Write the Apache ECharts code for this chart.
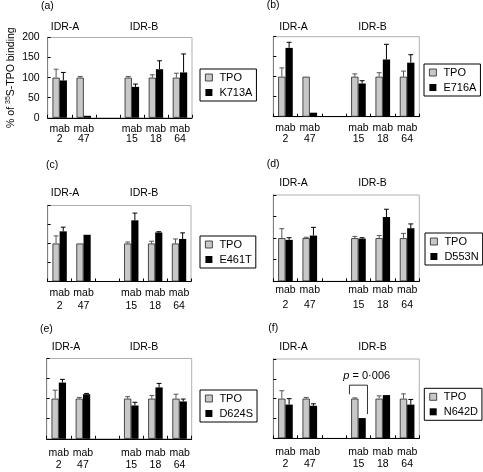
<!DOCTYPE html>
<html><head><meta charset="utf-8">
<script src="https://cdn.jsdelivr.net/npm/echarts@6/dist/echarts.min.js"></script>
<style>html,body{margin:0;padding:0;background:#fff}#c{width:483px;height:472px}</style>
</head><body><div id="c"></div>
<script>
// ---- data ----
const categories = ['mab\n2', 'mab\n47', '', 'mab\n15', 'mab\n18', 'mab\n64'];
const mutants = ['K713A', 'E716A', 'E461T', 'D553N', 'D624S', 'N642D'];
const panelLetters = ['(a)', '(b)', '(c)', '(d)', '(e)', '(f)'];
const yTicks = [0, 50, 100, 150, 200];

const tpoValues = [100, 100, null, 100, 100, 100];

const tpoErrA = [121, 103, null, 103, 107, 111];
const mutA    = [93, 5, null, 77, 121, 113];
const mutErrA = [113, null, null, 84, 142, 159];

const tpoErrB = [122, null, null, 107, 110, 114];
const mutB    = [172, 10, null, 83, 143, 135];
const mutErrB = [186, null, null, 90, 181, 155];

const tpoErrC = [120, null, null, 104, 106, 112];
const mutC    = [132, 123, null, 161, 129, 112];
const mutErrC = [143, null, null, 180, 131, 128];

const tpoErrD = [122, 102, null, 104, 106, 111];
const mutD    = [96, 106, null, 99, 149, 123];
const mutErrD = [101, 125, null, 101, 167, 133];

const tpoErrE = [121, 103, null, 105, 108, 111];
const mutE    = [140, 111, null, 83, 128, 93];
const mutErrE = [148, 113, null, 91, 138, 99];

const tpoErrF = [120, 103, null, 102, 107, 112];
const mutF    = [85, 82, null, 51, 109, 85];
const mutErrF = [100, 87, null, null, null, 98];

// significance bracket in panel (f): category index, left leg bottom, bracket top, right leg bottom
const bracketF = [3, 111, 134, 61];
const bracketText = 'p = 0·006';

const mutValues = [mutA, mutB, mutC, mutD, mutE, mutF];
const mutErrs = [mutErrA, mutErrB, mutErrC, mutErrD, mutErrE, mutErrF];
const tpoErrs = [tpoErrA, tpoErrB, tpoErrC, tpoErrD, tpoErrE, tpoErrF];

// ---- layout (pixels) ----
const FONT = "'Liberation Sans', Arial, sans-serif";
const grids = [
  {left: 47.7, top: 37.5, width: 144.3, height: 80.3},
  {left: 273.3, top: 36.7, width: 146, height: 80},
  {left: 47.7, top: 205.5, width: 143.3, height: 76},
  {left: 273.3, top: 195, width: 146, height: 86.3},
  {left: 46.7, top: 358.5, width: 145, height: 80.3},
  {left: 273.3, top: 359, width: 146, height: 79.3}
];
const labelCfg = [
  {margin: 6, lh: 10.5}, {margin: 6, lh: 11}, {margin: 5.5, lh: 12.7},
  {margin: 1.5, lh: 15}, {margin: 7.5, lh: 12.7}, {margin: 7.4, lh: 12}
];
const legendPos = [
  {left: 200, top: 69}, {left: 424, top: 64}, {left: 200, top: 236},
  {left: 425, top: 233}, {left: 200, top: 390}, {left: 424.3, top: 388.3}
];
const letterPos = [[41, 7], [266.7, 5.5], [46, 166], [266.7, 165], [40, 329.5], [268.3, 329]];
const idrPos = [
  [[65, 27], [144, 27]], [[293.5, 27], [372.5, 27]],
  [[65, 193.3], [144, 193.3]], [[293.5, 183.3], [372.5, 183.3]],
  [[66, 346.7], [144, 346.7]], [[293.5, 346.7], [372.5, 346.7]]
];

const GRAY = '#c8c8c8';

function errRender(side, color) {
  return function (params, api) {
    const idx = api.value(0), v = api.value(1), e = api.value(2);
    const bw = api.size([1, 0])[0];
    const b = api.coord([idx, v]);
    const t = api.coord([idx, e]);
    const x = b[0] + side * 0.15 * bw;
    const cap = 0.1 * bw;
    const st = {stroke: color, lineWidth: 1};
    return {type: 'group', children: [
      {type: 'line', shape: {x1: x, y1: b[1], x2: x, y2: t[1]}, style: st},
      {type: 'line', shape: {x1: x - cap, y1: t[1], x2: x + cap, y2: t[1]}, style: st}
    ]};
  };
}

function errData(vals, errs) {
  const out = [];
  vals.forEach((v, i) => { if (v != null && errs[i] != null) out.push([i, v, errs[i]]); });
  return out;
}

const option = {
  animation: false,
  textStyle: {fontFamily: FONT},
  grid: [], xAxis: [], yAxis: [], series: [], legend: [], graphic: []
};

for (let p = 0; p < 6; p++) {
  const g = grids[p];
  option.grid.push({left: g.left, top: g.top, width: g.width, height: g.height,
    show: true, borderColor: '#b0b0b0', borderWidth: 1, containLabel: false});
  option.xAxis.push({type: 'category', gridIndex: p, data: categories,
    axisLine: {lineStyle: {color: '#000', width: 1}},
    axisTick: {show: true, inside: true, length: 3, lineStyle: {color: '#000'}},
    axisLabel: {color: '#000', fontSize: 10.5, fontFamily: FONT, margin: labelCfg[p].margin,
      lineHeight: labelCfg[p].lh, interval: 0}
  });
  const yAx = {type: 'value', gridIndex: p, min: yTicks[0], max: yTicks[yTicks.length - 1],
    interval: yTicks[1] - yTicks[0],
    splitLine: {show: false},
    axisLine: {show: true, lineStyle: {color: '#808080', width: 1}},
    axisTick: {show: true, inside: true, length: 3, lineStyle: {color: '#000'}},
    axisLabel: {show: p === 0, color: '#000', fontSize: 10.5, fontFamily: FONT, margin: 8}
  };
  if (p === 0) {
    yAx.name = '{a|% of }{s|35}{a|S-TPO binding}';
    yAx.nameLocation = 'middle';
    yAx.nameGap = 31;
    yAx.nameTextStyle = {rich: {
      a: {fontSize: 10.5, fontFamily: FONT, color: '#000', lineHeight: 12},
      s: {fontSize: 7, fontFamily: FONT, color: '#000', lineHeight: 12, verticalAlign: 'top', padding: [0, 0, 4, 0]}
    }};
  }
  option.yAxis.push(yAx);

  option.series.push({type: 'bar', name: 'TPO', xAxisIndex: p, yAxisIndex: p,
    data: tpoValues.map(v => v == null ? '-' : v),
    barGap: '0%', barCategoryGap: '40%',
    itemStyle: {color: GRAY, borderColor: '#222', borderWidth: 0.8}});
  option.series.push({type: 'bar', name: mutants[p], xAxisIndex: p, yAxisIndex: p,
    data: mutValues[p].map(v => v == null ? '-' : v),
    barGap: '0%', barCategoryGap: '40%',
    itemStyle: {color: '#000'}});
  option.series.push({type: 'custom', xAxisIndex: p, yAxisIndex: p, silent: true,
    renderItem: errRender(-1, '#555'), encode: {x: 0, y: [1, 2]},
    data: errData(tpoValues, tpoErrs[p]), z: 3});
  option.series.push({type: 'custom', xAxisIndex: p, yAxisIndex: p, silent: true,
    renderItem: errRender(1, '#000'), encode: {x: 0, y: [1, 2]},
    data: errData(mutValues[p], mutErrs[p]), z: 3});

  option.legend.push({left: legendPos[p].left, top: legendPos[p].top, orient: 'vertical',
    backgroundColor: '#fff', borderColor: '#000', borderWidth: 1,
    padding: [3, 4, 3, 5], itemGap: 4, itemWidth: 7, itemHeight: 7, icon: 'rect',
    selectedMode: false,
    textStyle: {fontSize: 11, fontFamily: FONT, color: '#000', padding: [0, 0, 0, 2]},
    data: [
      {name: 'TPO', itemStyle: {color: GRAY, borderColor: '#222', borderWidth: 0.8}},
      {name: mutants[p], itemStyle: {color: '#000'}}
    ]});

  option.graphic.push({type: 'text', left: letterPos[p][0], top: letterPos[p][1] - 6,
    style: {text: panelLetters[p], font: '10.5px ' + FONT, fill: '#000'}});
  ['IDR-A', 'IDR-B'].forEach((t, k) => {
    option.graphic.push({type: 'text', x: idrPos[p][k][0], y: idrPos[p][k][1],
      style: {text: t, font: '10.5px ' + FONT, fill: '#000', align: 'center', verticalAlign: 'middle'}});
  });
}

// bracket + p-value in panel (f)
option.series.push({type: 'custom', xAxisIndex: 5, yAxisIndex: 5, silent: true, z: 4,
  encode: {x: 0, y: [1, 2, 3]},
  data: [bracketF],
  renderItem: function (params, api) {
    const idx = api.value(0);
    const bw = api.size([1, 0])[0];
    const c = api.coord([idx, api.value(2)]);
    const l = api.coord([idx, api.value(1)]);
    const r = api.coord([idx, api.value(3)]);
    const xl = c[0] - 0.37 * bw, xr = c[0] + 0.37 * bw;
    return {type: 'group', children: [
      {type: 'polyline', shape: {points: [[xl, l[1]], [xl, c[1]], [xr, c[1]], [xr, r[1]]]},
        style: {stroke: '#333', lineWidth: 1, fill: null}},
      {type: 'text', x: c[0] + 0.34 * bw, y: c[1] - 4,
        style: {text: '{i|p}' + bracketText.slice(1), rich: {i: {fontStyle: 'italic', fontSize: 11, fontFamily: FONT}},
          fontSize: 11, fontFamily: FONT, fill: '#000', align: 'center', verticalAlign: 'bottom'}}
    ]};
  }
});

const chart = echarts.init(document.getElementById('c'), null, {renderer: 'canvas'});
chart.setOption(option);
</script>
</body></html>
